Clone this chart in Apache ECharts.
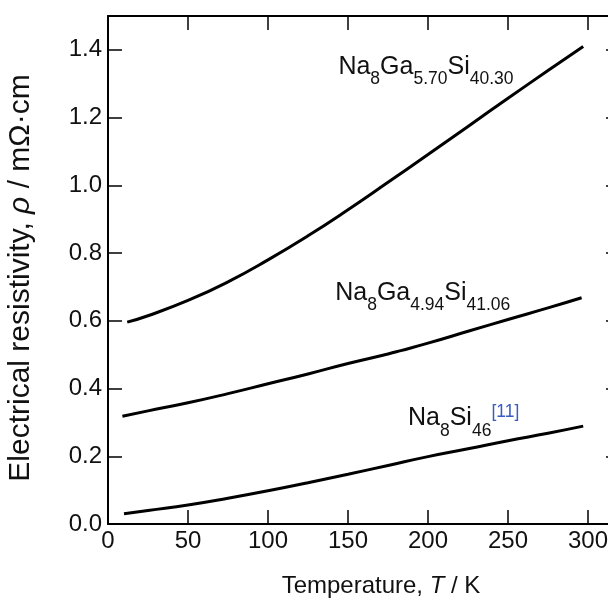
<!DOCTYPE html>
<html>
<head>
<meta charset="utf-8">
<script src="https://cdn.jsdelivr.net/npm/echarts@6/dist/echarts.min.js"></script>
<style>
html,body{margin:0;padding:0;background:#fff;}
#chart{width:608px;height:606px;}
</style>
</head>
<body>
<div id="chart"></div>
<script>
// Temperature (K) and resistivity (mOhm cm)
const tempGa570 = [12, 25, 50, 75, 100, 125, 150, 175, 200, 225, 250, 275, 297];
const rhoGa570  = [0.596, 0.615, 0.660, 0.715, 0.780, 0.851, 0.928, 1.009, 1.091, 1.174, 1.257, 1.339, 1.41];

const tempGa494 = [9, 25, 50, 75, 100, 125, 150, 175, 183, 200, 225, 250, 275, 296];
const rhoGa494  = [0.318, 0.334, 0.358, 0.385, 0.414, 0.443, 0.474, 0.502, 0.512, 0.534, 0.569, 0.604, 0.638, 0.668];

const tempSi46 = [10, 25, 50, 75, 100, 125, 150, 175, 200, 225, 250, 275, 297];
const rhoSi46  = [0.03, 0.04, 0.056, 0.076, 0.098, 0.122, 0.147, 0.173, 0.199, 0.222, 0.246, 0.268, 0.289];

const xTickValues = [0, 50, 100, 150, 200, 250, 300];
const yTickValues = [0.0, 0.2, 0.4, 0.6, 0.8, 1.0, 1.2, 1.4];

const seriesLabels = [
  '{m|Na}{s|8}{m|Ga}{s|5.70}{m|Si}{s|40.30}',
  '{m|Na}{s|8}{m|Ga}{s|4.94}{m|Si}{s|41.06}',
  '{m|Na}{s|8}{m|Si}{s|46}{u|[11]}'
];

const FONT = 'Liberation Sans, Arial, Helvetica, sans-serif';
const zip = (a, b) => a.map((v, i) => [v, b[i]]);

const richLabel = {
  m: {fontSize: 25, fontFamily: FONT, color: '#111', lineHeight: 30},
  s: {fontSize: 17.5, fontFamily: FONT, color: '#111', lineHeight: 30, padding: [25, 0, 0, 0]},
  u: {fontSize: 17.5, fontFamily: FONT, color: '#3a5bc0', lineHeight: 30, padding: [0, 0, 12, 0]}
};

function curve(data, labelCoord, labelText) {
  return {
    type: 'line',
    data: data,
    smooth: 0.5,
    showSymbol: false,
    symbol: 'none',
    lineStyle: {color: '#000', width: 3},
    silent: true,
    markPoint: {
      symbol: 'circle',
      symbolSize: 0,
      silent: true,
      data: [{coord: labelCoord}],
      label: {
        show: true,
        position: 'right',
        distance: 0,
        formatter: labelText,
        rich: richLabel
      }
    }
  };
}

const axisLineStyle = {color: '#000', width: 2};

const option = {
  animation: false,
  backgroundColor: '#fff',
  grid: {left: 108, top: 16, width: 512, height: 508, containLabel: false, outerBoundsMode: 'none'},
  xAxis: [
    {
      type: 'value', min: 0, max: 320, interval: 50, position: 'bottom',
      axisLine: {show: true, onZero: false, lineStyle: axisLineStyle},
      axisTick: {show: true, inside: true, length: 14, lineStyle: {color: '#000', width: 1.5}},
      axisLabel: {
        fontSize: 24, fontFamily: FONT, color: '#111', margin: 5,
        formatter: v => xTickValues.includes(v) ? String(v) : ''
      },
      splitLine: {show: false},
      name: '{n|Temperature, }{i|T}{n| / K}',
      nameLocation: 'middle',
      nameGap: 50,
      nameTextStyle: {
        padding: [0, 0, 0, 34],
        rich: {
          n: {fontSize: 24, fontFamily: FONT, color: '#111'},
          i: {fontSize: 24, fontFamily: FONT, color: '#111', fontStyle: 'italic'}
        }
      }
    },
    {
      type: 'value', min: 0, max: 320, interval: 50, position: 'top',
      axisLine: {show: true, onZero: false, lineStyle: axisLineStyle},
      axisTick: {show: true, inside: true, length: 14, lineStyle: {color: '#000', width: 1.5}},
      axisLabel: {show: false},
      splitLine: {show: false}
    }
  ],
  yAxis: [
    {
      type: 'value', min: 0, max: 1.5, interval: 0.2, position: 'left',
      axisLine: {show: true, onZero: false, lineStyle: axisLineStyle},
      axisTick: {show: true, inside: true, length: 14, lineStyle: {color: '#000', width: 1.5}},
      axisLabel: {
        fontSize: 24, fontFamily: FONT, color: '#111', margin: 6,
        formatter: v => yTickValues.some(t => Math.abs(t - v) < 1e-6) ? v.toFixed(1) : ''
      },
      splitLine: {show: false},
      name: '{n|Electrical resistivity, }{i|ρ}{n| / mΩ·cm}',
      nameLocation: 'middle',
      nameGap: 72,
      nameTextStyle: {
        padding: [0, 16, 0, 0],
        rich: {
          n: {fontSize: 30, fontFamily: FONT, color: '#111'},
          i: {fontSize: 30, fontFamily: FONT, color: '#111', fontStyle: 'italic'}
        }
      }
    },
    {
      type: 'value', min: 0, max: 1.5, interval: 0.2, position: 'right',
      axisLine: {show: true, onZero: false, lineStyle: axisLineStyle},
      axisTick: {show: true, inside: true, length: 14, lineStyle: {color: '#000', width: 1.5}},
      axisLabel: {show: false},
      splitLine: {show: false}
    }
  ],
  series: [
    curve(zip(tempGa570, rhoGa570), [144, 1.35], seriesLabels[0]),
    curve(zip(tempGa494, rhoGa494), [142, 0.683], seriesLabels[1]),
    curve(zip(tempSi46, rhoSi46), [187.5, 0.312], seriesLabels[2])
  ]
};

const chart = echarts.init(document.getElementById('chart'), null, {renderer: 'canvas'});
chart.setOption(option);
</script>
</body>
</html>
